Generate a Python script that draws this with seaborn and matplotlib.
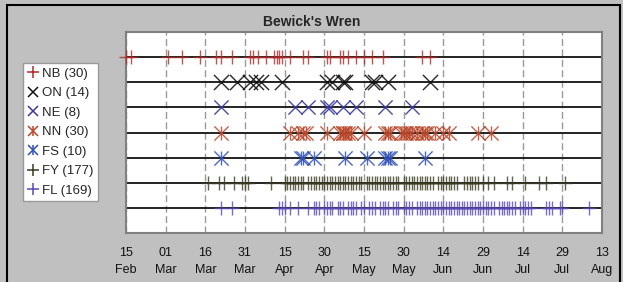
import matplotlib
matplotlib.use("Agg")
import matplotlib.pyplot as plt
from matplotlib.lines import Line2D
from matplotlib.legend_handler import HandlerTuple
from matplotlib.patches import Rectangle
import seaborn as sns

sns.set_theme(style="white")
plt.rcParams["font.family"] = ["Liberation Sans", "DejaVu Sans"]

# days counted from 15 Feb
groups = ["NB", "ON", "NE", "NN", "FS", "FY", "FL"]
counts = [30, 14, 8, 30, 10, 177, 169]

nb_days = [0, 2, 16, 21, 28, 34, 36, 40, 47, 48, 50, 53, 56, 57, 58, 59, 62,
           67, 69, 76, 77, 81, 82, 84, 87, 90, 93, 97, 112, 115]
on_days = [36, 42, 47, 49, 51, 59, 76, 78, 82, 83, 93, 94, 99, 115]
ne_days = [36, 64, 69, 76, 77, 82, 87, 98, 108]
nn_days = [36, 62, 65, 67, 68, 76, 81, 82, 82, 83, 84, 85, 90, 98, 99, 100,
           104, 105, 106, 107, 108, 110, 112, 113, 114, 117, 120, 122, 133, 138]
fs_days = [36, 66, 67, 71, 83, 91, 98, 99, 100, 113]
fy_days = [31, 35, 37, 41, 44, 45, 46, 55,
           60, 61, 62, 63, 64, 65, 66, 67, 69, 70, 71, 72, 73, 74, 75, 76,
           77, 78, 79, 80, 81, 82, 83, 84, 85, 86, 87, 88, 89, 91, 92, 93,
           94, 95, 96, 97, 98, 99, 100, 101, 102, 103, 105, 106, 107, 108,
           109, 110, 111, 112, 113, 114, 115, 116, 118, 119, 120, 121, 122,
           123, 124, 125, 128, 129, 130, 131, 132, 133,
           135, 137, 139, 144, 146, 151, 156, 159, 166]
fl_days = [36, 40, 58, 59, 60, 62, 65,
           69, 71, 72, 73, 75, 76, 77, 78, 80, 81, 82, 84, 85, 86, 87, 89,
           90, 92, 93, 94, 96, 97, 98, 99, 101, 102, 103, 105, 106, 107, 108,
           110, 111, 112, 113, 114, 115, 116, 117, 118, 119, 120, 121, 122,
           123, 124, 125, 126, 127, 128, 129, 130, 131, 132, 133, 134, 135,
           136, 137, 138, 139, 141, 142, 143, 144, 145, 146, 147, 149, 150,
           151, 152, 153,
           159, 160, 161, 164, 165, 175]

tick_days = [0, 15, 30, 45, 60, 75, 90, 105, 120, 135, 150, 165, 180]
tick_labels = ["15\nFeb", "01\nMar", "16\nMar", "31\nMar", "15\nApr", "30\nApr",
               "15\nMay", "30\nMay", "14\nJun", "29\nJun", "14\nJul", "29\nJul",
               "13\nAug"]

all_days = [nb_days, on_days, ne_days, nn_days, fs_days, fy_days, fl_days]
colors = ["#b02a2a", "#111111", "#3a3a9e", "#b8472a", "#3050b8", "#3b3b22", "#5a48b5"]
# marker kind: plus, cross, asterisk
kinds = ["plus", "cross", "cross", "star", "star", "plus", "plus"]
sizes = [110, 120, 105, 105, 105, 110, 110]

fig = plt.figure(figsize=(6.23, 2.82), dpi=100, facecolor="#c0c0c0")
ax = fig.add_axes([126 / 623, 49 / 282, 476 / 623, 201 / 282])
ax.set_facecolor("white")

handles = []
for i, (days, col, kind, sz) in enumerate(zip(all_days, colors, kinds, sizes)):
    y = 7 - i
    ax.axhline(y, color="#222222", lw=1.4, zorder=2)
    ys = [y] * len(days)
    if kind == "plus":
        sns.scatterplot(x=days, y=ys, marker="+", s=sz, color=col, linewidth=1.0,
                        alpha=0.8, ax=ax, zorder=3, clip_on=False, legend=False)
        h = Line2D([], [], ls="none", marker="+", color=col, ms=8, mew=1.1)
    elif kind == "cross":
        sns.scatterplot(x=days, y=ys, marker="x", s=sz, color=col, linewidth=1.0,
                        alpha=0.9, ax=ax, zorder=3, clip_on=False, legend=False)
        h = Line2D([], [], ls="none", marker="x", color=col, ms=7, mew=1.1)
    else:
        for m in ["x", "|"]:
            sns.scatterplot(x=days, y=ys, marker=m, s=sz, color=col, linewidth=1.0,
                            alpha=0.85, ax=ax, zorder=3, clip_on=False, legend=False)
        h = (Line2D([], [], ls="none", marker="x", color=col, ms=7, mew=1.1),
             Line2D([], [], ls="none", marker="|", color=col, ms=7, mew=1.1))
    handles.append(h)

ax.set_xlim(0, 180)
ax.set_ylim(0, 8)
ax.set_yticks([])
ax.set_xticks(tick_days, tick_labels)
for t in ax.get_xticklabels():
    t.set_linespacing(1.6)
ax.tick_params(axis="x", length=0, pad=10, labelsize=9, colors="#111111")
ax.grid(True, axis="x", color="#9a9a9a", lw=1, linestyle=(0, (5, 2.5)))
ax.grid(False, axis="y")
for sp in ax.spines.values():
    sp.set_color("#808080")
    sp.set_linewidth(1.5)

fig.text(0.5, 1 - 22 / 282, "Bewick's Wren", ha="center", va="center",
         fontsize=10, fontweight="bold")

labels = [f"{g} ({c})" for g, c in zip(groups, counts)]
leg = fig.legend(handles, labels, loc="upper left",
                 bbox_to_anchor=(23 / 623, 1 - 63 / 282), borderaxespad=0,
                 frameon=True, fancybox=False, edgecolor="#999999",
                 facecolor="white", framealpha=1, fontsize=9.5,
                 handlelength=0.8, handletextpad=0.3, borderpad=0.35,
                 labelspacing=0.55, handler_map={tuple: HandlerTuple()})
leg.get_frame().set_linewidth(1)

fig.patches.append(Rectangle((7 / 623, -0.1), 613 / 623, 1.1 - 5 / 282,
                             transform=fig.transFigure, fill=False,
                             edgecolor="black", lw=1.5))

fig.savefig("out.png", dpi=100, facecolor=fig.get_facecolor())
